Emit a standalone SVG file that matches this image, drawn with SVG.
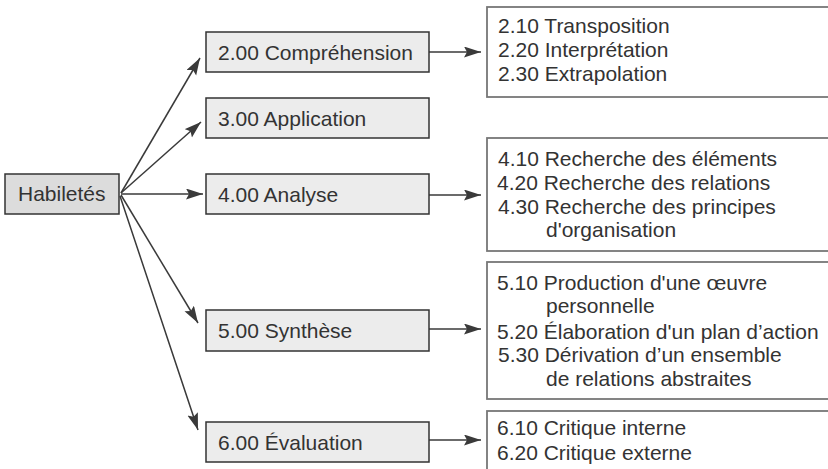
<svg xmlns="http://www.w3.org/2000/svg" width="828" height="469" viewBox="0 0 828 469">
<defs>
<marker id="ah" markerUnits="userSpaceOnUse" markerWidth="18" markerHeight="12" refX="17" refY="5.5" orient="auto">
<path d="M0,0 L17,5.5 L0,11 L3,5.5 z" fill="#3a3a3a"/>
</marker>
</defs>
<style>
text{font-family:"Liberation Sans",Arial,sans-serif;font-size:21px;fill:#333;}
.root{fill:#dcdcdc;stroke:#333;stroke-width:1.5;}
.lvl{fill:#ececec;stroke:#333;stroke-width:1.5;}
.sub{fill:#fff;stroke:#777;stroke-width:1.8;}
.c{stroke:#3a3a3a;stroke-width:1.5;fill:none;marker-end:url(#ah);}
</style>
<rect width="828" height="469" fill="#fff"/>
<g id="connectors">
<line class="c" x1="121" y1="193" x2="200" y2="58"/>
<line class="c" x1="121" y1="193" x2="201" y2="122"/>
<line class="c" x1="121" y1="194" x2="203" y2="194"/>
<line class="c" x1="121" y1="195" x2="198" y2="323"/>
<line class="c" x1="120" y1="196" x2="198" y2="430"/>
<line class="c" x1="429" y1="52" x2="481" y2="52"/>
<line class="c" x1="429" y1="195" x2="481" y2="195"/>
<line class="c" x1="429" y1="329" x2="481" y2="329"/>
<line class="c" x1="429" y1="440" x2="481" y2="440"/>
</g>
<g id="habiletes">
<rect class="root" x="5" y="174" width="114" height="40"/>
<text x="18" y="201">Habiletés</text>
</g>
<g id="comprehension">
<rect class="lvl" x="206" y="32" width="223" height="40"/>
<text x="218" y="60">2.00 Compréhension</text>
</g>
<g id="application">
<rect class="lvl" x="206" y="98" width="223" height="40"/>
<text x="218" y="126">3.00 Application</text>
</g>
<g id="analyse">
<rect class="lvl" x="206" y="174" width="223" height="40"/>
<text x="218" y="202">4.00 Analyse</text>
</g>
<g id="synthese">
<rect class="lvl" x="206" y="310" width="223" height="41"/>
<text x="218" y="338">5.00 Synthèse</text>
</g>
<g id="evaluation">
<rect class="lvl" x="206" y="422" width="223" height="40"/>
<text x="218" y="450">6.00 Évaluation</text>
</g>
<g id="sub-comprehension">
<rect class="sub" x="487" y="7" width="350" height="90"/>
<text x="498" y="33">2.10 Transposition</text>
<text x="498" y="57">2.20 Interprétation</text>
<text x="498" y="81">2.30 Extrapolation</text>
</g>
<g id="sub-analyse">
<rect class="sub" x="487" y="138" width="350" height="113"/>
<text x="498" y="166">4.10 Recherche des éléments</text>
<text x="497" y="190">4.20 Recherche des relations</text>
<text x="498" y="214">4.30 Recherche des principes</text>
<text x="546" y="237">d'organisation</text>
</g>
<g id="sub-synthese">
<rect class="sub" x="487" y="262" width="350" height="137"/>
<text x="497" y="290">5.10 Production d'une œuvre</text>
<text x="546" y="313">personnelle</text>
<text x="497" y="339">5.20 Élaboration d'un plan d’action</text>
<text x="498" y="362">5.30 Dérivation d’un ensemble</text>
<text x="546" y="386">de relations abstraites</text>
</g>
<g id="sub-evaluation">
<rect class="sub" x="487" y="411" width="350" height="70"/>
<text x="497" y="435">6.10 Critique interne</text>
<text x="497" y="460">6.20 Critique externe</text>
</g>
</svg>
